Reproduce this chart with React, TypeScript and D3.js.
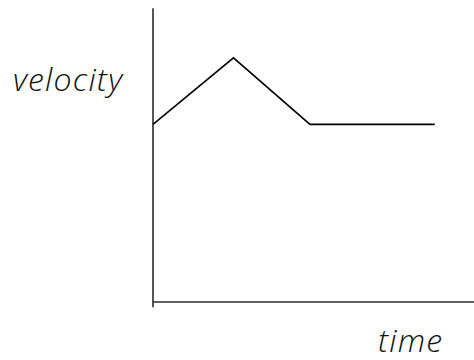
import React from 'react'
import * as d3 from 'd3'

// time / velocity readings of the sketch
const times = [0, 1, 1.95, 3.5]
const velocities = [2.4, 3.3, 2.4, 2.4]
const xLabel = 'time'
const yLabel = 'velocity'

const W = 474
const H = 360

export default function App() {
  const x = d3.scaleLinear().domain([0, 4]).range([153, 475])
  const y = d3.scaleLinear().domain([0, 4]).range([302, 6])

  const line = d3
    .line<number>()
    .x((d, i) => x(times[i]))
    .y(d => y(d))

  const ink = '#2b2b2b'
  const font = "'Open Sans', 'DejaVu Sans', sans-serif"

  return (
    <svg
      width={W}
      height={H}
      style={{ position: 'absolute', left: 0, top: 0, background: '#fff' }}
    >
      {/* y axis */}
      <line x1={x(0)} x2={x(0)} y1={y(3.97)} y2={y(-0.07)} stroke={ink} strokeWidth={1.6} />
      {/* x axis */}
      <line x1={x(0)} x2={W} y1={y(0)} y2={y(0)} stroke={ink} strokeWidth={1.6} />

      <path d={line(velocities) ?? ''} fill="none" stroke="#000" strokeWidth={1.6} strokeLinejoin="miter" />

      <text
        x={13}
        y={91}
        fontFamily={font}
        fontStyle="italic"
        fontWeight={300}
        fontSize={32}
        textLength={109}
        lengthAdjust="spacing"
        fill="#111"
      >
        {yLabel}
      </text>
      <text
        x={378}
        y={352}
        fontFamily={font}
        fontStyle="italic"
        fontWeight={300}
        fontSize={32}
        textLength={64}
        lengthAdjust="spacing"
        fill="#111"
      >
        {xLabel}
      </text>
    </svg>
  )
}
